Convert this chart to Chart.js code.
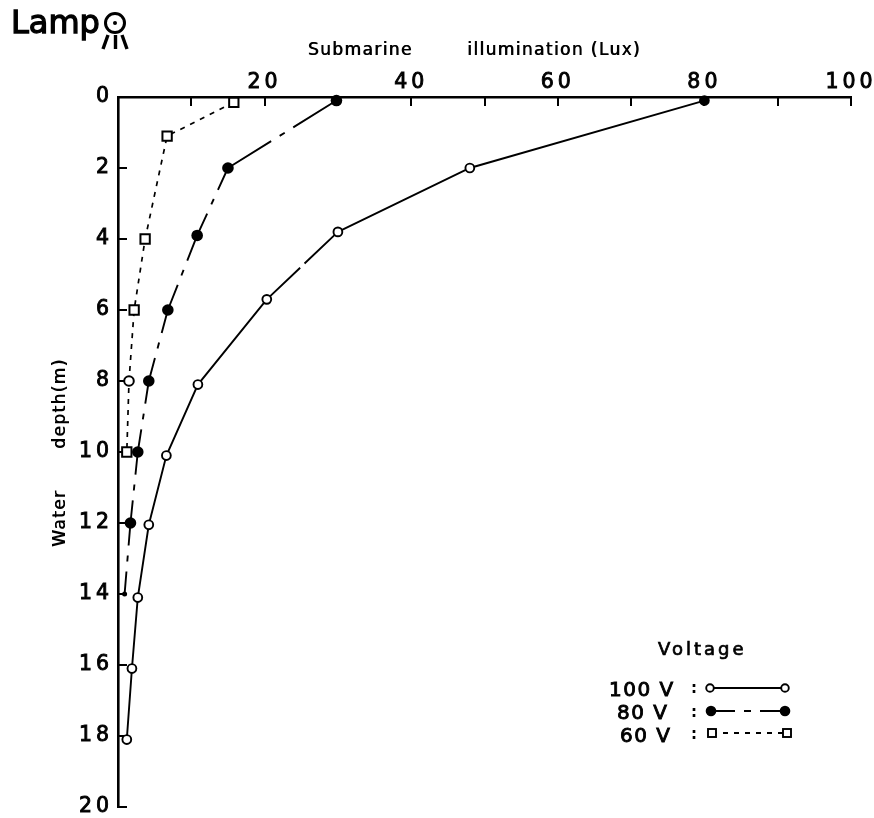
<!DOCTYPE html>
<html>
<head>
<meta charset="utf-8">
<title>Submarine illumination</title>
<script src="https://cdn.jsdelivr.net/npm/chart.js@4/dist/chart.umd.min.js"></script>
<style>
  html, body { margin: 0; padding: 0; background: #fff; }
  canvas { display: block; }
</style>
</head>
<body>
<canvas id="chart" width="874" height="818"></canvas>
<script>
const depths100 = [0.1, 2, 3.8, 5.7, 8.1, 10.1, 12.05, 14.1, 16.1, 18.1];
const lux100 = [80, 48, 30, 20.3, 10.9, 6.6, 4.2, 2.7, 1.9, 1.2];

const depths80 = [0.1, 2, 3.9, 6, 8, 10, 12, 14];
const lux80 = [29.8, 15, 10.8, 6.8, 4.2, 2.7, 1.7, 0.9];

const depths60 = [0.15, 1.1, 4, 6, 8, 10];
const lux60 = [15.8, 6.7, 3.7, 2.2, 1.5, 1.2];

const xTicksLabelled = [20, 40, 60, 80, 100];
const FONT = "'DejaVu Sans'";
const TICK_SPACING = "4px";
const TITLE_SPACING = "1.4px";

const toPoints = (xs, ys) => xs.map((x, i) => ({ x: x, y: ys[i] }));

// long - short - long inside each segment, restarts at every point
function longShortDash(ctx) {
  const a = ctx.p0, b = ctx.p1;
  const d = Math.hypot(b.x - a.x, b.y - a.y);
  const long = Math.max((d - 26) / 2, 2);
  return [long, 10, 6, 10, d];
}

// the 100 V line has one small break in it
function oneBreak(ctx) {
  if (ctx.p0DataIndex !== 2) return undefined;
  const d = Math.hypot(ctx.p1.x - ctx.p0.x, ctx.p1.y - ctx.p0.y);
  return [d / 2 - 3, 6, d];
}

function heavyText(c, text, x, y, weight) {
  c.lineWidth = weight;
  c.fillText(text, x, y);
  c.strokeText(text, x, y);
}

const annotations = {
  id: "annotations",
  beforeDraw(chart) {
    const c = chart.ctx;
    c.letterSpacing = TICK_SPACING;
    // axis titles have no stroke option, so they get printed twice to look heavier
    [chart.scales.x, chart.scales.y].forEach((scale) => {
      if (scale._titleWrapped) return;
      scale._titleWrapped = true;
      const drawTitle = scale.drawTitle;
      scale.drawTitle = function () {
        c.save();
        c.letterSpacing = TITLE_SPACING;
        drawTitle.call(this);
        c.translate(0.7, 0.7);
        drawTitle.call(this);
        c.restore();
      };
    });
  },
  afterDraw(chart) {
    const c = chart.ctx;
    c.save();
    c.fillStyle = "#000";
    c.strokeStyle = "#000";
    c.textBaseline = "alphabetic";

    // lamp
    c.letterSpacing = "0px";
    c.font = "32px " + FONT;
    heavyText(c, "Lamp", 11, 33, 1.3);
    c.lineWidth = 3;
    c.beginPath();
    c.arc(115, 23, 9.5, 0, Math.PI * 2);
    c.stroke();
    c.beginPath();
    c.arc(115, 23, 2, 0, Math.PI * 2);
    c.fill();
    c.lineWidth = 3.4;
    [[108, 103], [115.5, 115.5], [122, 127]].forEach(([from, to]) => {
      c.beginPath();
      c.moveTo(from, 35);
      c.lineTo(to, 49);
      c.stroke();
    });

    // legend
    c.letterSpacing = "3px";
    c.font = "18px " + FONT;
    heavyText(c, "Voltage", 658, 655, 0.7);
    c.letterSpacing = "1.5px";
    c.font = "20px " + FONT;
    heavyText(c, "100 V", 609, 696, 0.9);
    heavyText(c, "80 V", 617, 719, 0.9);
    heavyText(c, "60 V", 620, 742, 0.9);
    c.font = "bold 15px " + FONT;
    c.fillText(":", 691, 693);
    c.fillText(":", 691, 717);
    c.fillText(":", 691, 739);

    c.lineWidth = 1.9;
    c.beginPath();
    c.moveTo(710, 688);
    c.lineTo(785, 688);
    c.stroke();
    c.beginPath();
    c.setLineDash([24, 9, 7, 9, 40]);
    c.moveTo(711, 711);
    c.lineTo(785, 711);
    c.stroke();
    c.beginPath();
    c.setLineDash([5, 6]);
    c.moveTo(712, 733);
    c.lineTo(787, 733);
    c.stroke();
    c.setLineDash([]);

    c.fillStyle = "#fff";
    [710, 785].forEach((x) => {
      c.beginPath();
      c.arc(x, 688, 3.8, 0, Math.PI * 2);
      c.fill();
      c.stroke();
    });
    [712, 787].forEach((x) => {
      c.fillRect(x - 4, 729, 8, 8);
      c.strokeRect(x - 4, 729, 8, 8);
    });
    c.fillStyle = "#000";
    [711, 785].forEach((x) => {
      c.beginPath();
      c.arc(x, 711, 5.3, 0, Math.PI * 2);
      c.fill();
    });
    c.restore();
  },
};

new Chart(document.getElementById("chart"), {
  type: "scatter",
  plugins: [annotations],
  data: {
    datasets: [
      {
        label: "100 V",
        data: toPoints(lux100, depths100),
        showLine: true,
        order: 3,
        borderColor: "#000",
        borderWidth: 1.9,
        backgroundColor: "#fff",
        // the top point is inked in on the original
        pointBackgroundColor: lux100.map((v, i) => (i === 0 ? "#000" : "#fff")),
        pointBorderColor: "#000",
        pointBorderWidth: 1.9,
        pointRadius: 4.4,
        segment: { borderDash: oneBreak },
      },
      {
        label: "80 V",
        data: toPoints(lux80, depths80),
        showLine: true,
        order: 2,
        borderColor: "#000",
        borderWidth: 1.9,
        backgroundColor: "#000",
        pointBackgroundColor: "#000",
        pointBorderColor: "#000",
        pointBorderWidth: 0,
        pointRadius: [5.8, 5.8, 5.8, 5.8, 5.8, 5.8, 5.8, 2.5],
        segment: { borderDash: longShortDash },
      },
      {
        label: "60 V",
        data: toPoints(lux60, depths60),
        showLine: true,
        order: 1,
        borderColor: "#000",
        borderWidth: 1.7,
        borderDash: [5, 6],
        backgroundColor: "#fff",
        pointBackgroundColor: "#fff",
        pointBorderColor: "#000",
        pointBorderWidth: 2,
        pointStyle: ["rect", "rect", "rect", "rect", "circle", "rect"],
        pointRadius: [6.6, 6.6, 6.6, 6.6, 4.8, 6.6],
      },
    ],
  },
  options: {
    responsive: false,
    animation: false,
    clip: false,
    layout: { padding: { top: 0, left: 0, right: 23, bottom: 11 } },
    plugins: { legend: { display: false }, tooltip: { enabled: false } },
    scales: {
      x: {
        type: "linear",
        position: "top",
        min: 0,
        max: 100,
        afterFit(scale) {
          scale.height = 97;
          scale.paddingLeft = 0;
          scale.paddingRight = 0;
        },
        border: { color: "#000", width: 2.6 },
        grid: { drawOnChartArea: false, color: "#000", lineWidth: 2, tickLength: -9 },
        title: {
          display: true,
          text: "Submarine\u00a0\u00a0\u00a0\u00a0\u00a0\u00a0\u00a0\u00a0illumination (Lux)\u00a0\u00a0\u00a0",
          color: "#000",
          font: { family: FONT, size: 17 },
          padding: { top: 40, bottom: 0 },
        },
        ticks: {
          stepSize: 10,
          autoSkip: false,
          maxRotation: 0,
          color: "#000",
          textStrokeColor: "#000",
          textStrokeWidth: 0.9,
          font: { family: FONT, size: 20.5 },
          padding: 11,
          callback: (v) => (xTicksLabelled.includes(v) ? String(v) : ""),
        },
      },
      y: {
        type: "linear",
        reverse: true,
        min: 0,
        max: 20,
        afterFit(scale) {
          scale.width = 118;
          scale.paddingTop = 0;
          scale.paddingBottom = 0;
        },
        border: { color: "#000", width: 2.6, dash: [175, 6, 15, 4, 600, 0] },
        grid: { drawOnChartArea: false, color: "#000", lineWidth: 2, tickLength: -9 },
        title: {
          display: true,
          text: "Water\u00a0\u00a0\u00a0\u00a0\u00a0\u00a0depth(m)",
          color: "#000",
          font: { family: FONT, size: 17 },
          padding: { top: 50, bottom: 0 },
        },
        ticks: {
          stepSize: 2,
          autoSkip: false,
          maxRotation: 0,
          color: "#000",
          textStrokeColor: "#000",
          textStrokeWidth: 0.9,
          font: { family: FONT, size: 20.5 },
          padding: 14,
        },
      },
    },
  },
});
</script>
</body>
</html>
